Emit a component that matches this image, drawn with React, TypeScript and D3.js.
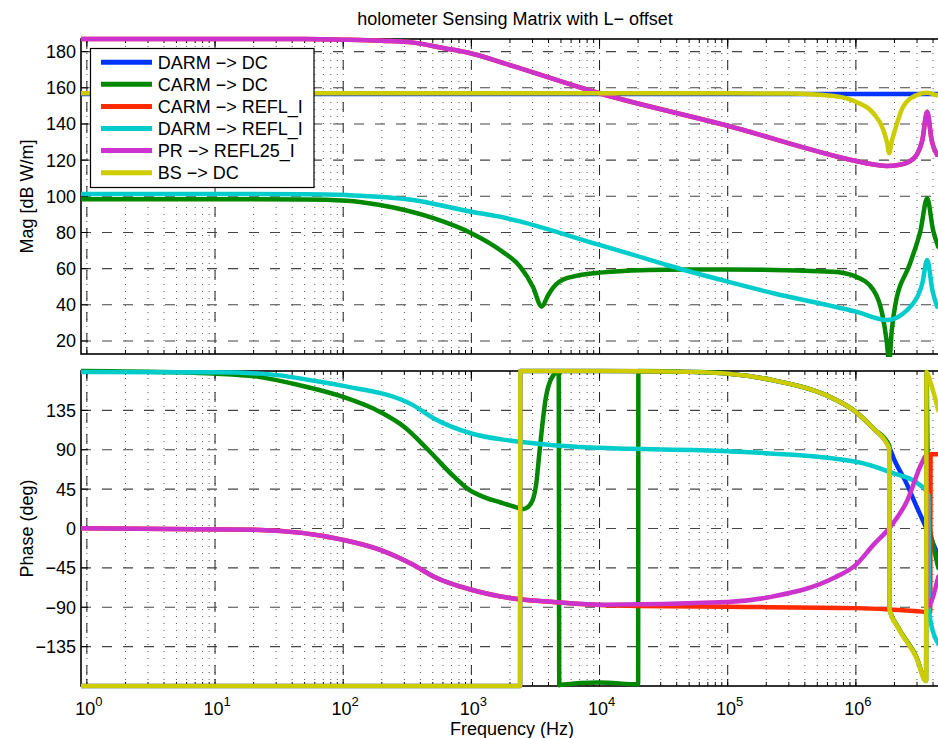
import { useEffect, useRef } from 'react'
import * as d3 from 'd3'

const W = 938
const H = 738

const seriesNames = ['DARM −> DC', 'CARM −> DC', 'CARM −> REFL_I', 'DARM −> REFL_I', 'PR −> REFL25_I', 'BS −> DC']
const seriesColors = ['#0033ff', '#008800', '#ff2a00', '#00cccc', '#cc33cc', '#cccc00']

const magTicks = [20, 40, 60, 80, 100, 120, 140, 160, 180]
const phaseTicks = [-135, -90, -45, 0, 45, 90, 135]
const decades = [0, 1, 2, 3, 4, 5, 6]

// magnitude, [Hz, dB]
const darmDcMag = [[0.9, 156.6], [1e5, 156.6], [1e6, 156.6], [5e6, 156.6]]
const carmDcMag = [
  [0.9, 98.4], [50, 98.3], [107, 97.6], [194, 95.2], [506, 87.9], [1000, 79.6],
  [1675, 70.3], [2400, 61.1], [3020, 50], [3540, 39], [3950, 45], [4350, 49.5], [5540, 54.7],
  [1e4, 57.8], [3.3e4, 59.4], [1e5, 59.5], [6.6e5, 58.3], [1e6, 55.6], [1.37e6, 48.2],
  [1.6e6, 35.5], [1.74e6, 20], [1.82e6, 8], [1.9e6, 25], [2.02e6, 39], [2.65e6, 63],
  [3.2e6, 81.4], [3.6e6, 99], [4.0e6, 81.4], [4.4e6, 72],
]
const prReflMag = [
  [0.9, 187], [50, 187], [107, 186.6], [200, 186], [352, 185], [600, 182], [1000, 179],
  [2000, 172.6], [1e4, 157], [1e5, 139], [1e6, 119.5], [1.2e6, 118.3], [1.74e6, 116.8],
  [2.14e6, 117.3], [2.6e6, 119.2], [2.98e6, 122.9], [3.3e6, 131], [3.6e6, 146.8],
  [3.9e6, 131], [4.3e6, 123],
]
const carmReflMag = prReflMag.map(d => [d[0], d[1]])
const darmReflMag = [
  [0.9, 101.3], [50, 101.2], [107, 100.7], [350, 98], [1000, 91.5], [1675, 88.7],
  [1e4, 73.1], [1.84e4, 67.6], [3.34e4, 62], [1e5, 52.8], [2.27e5, 46.4], [1e6, 36.2],
  [1.74e6, 31.6], [2.8e6, 40.8], [3.3e6, 51.9], [3.6e6, 64.8], [3.95e6, 48.2], [4.3e6, 39],
]
const bsDcMag = [
  [0.9, 157], [1e5, 157], [3e5, 156.8], [6.7e5, 155.5], [1e6, 152.3], [1.37e6, 145.9],
  [1.64e6, 136.7], [1.76e6, 129], [1.82e6, 123.8], [1.9e6, 130], [2.02e6, 136.7],
  [2.34e6, 149.6], [2.98e6, 156], [3.57e6, 157.3], [4.27e6, 156], [4.6e6, 155.5],
]

// phase, [Hz, deg]
const darmDcPhase = [
  [0.9, -180], [2400, -180], [2410, 180], [1e4, 180], [5e4, 179], [1e5, 177], [2.27e5, 169.3],
  [6.7e5, 148.4], [1e6, 133.2], [1.37e6, 114.3], [1.82e6, 93], [2.0e6, 78], [2.42e6, 55],
  [3.0e6, 24], [3.79e6, -9], [4.4e6, -31],
]
const carmDcPhase = [
  [0.9, 180], [5, 178.5], [9.7, 177], [22.5, 173], [46, 163.6], [100, 150.3], [194, 133.2],
  [300, 116], [459, 90], [700, 62], [943, 45], [1300, 35], [1675, 30], [2000, 26.5],
  [2550, 22.3], [2900, 28], [3200, 50], [3400, 87.6], [3800, 148.4], [4350, 175],
  [4800, 179.5], [4850, -179], [5050, -178.5], [1e4, -176], [2e4, -178], [2.01e4, 180],
  [5e4, 179], [1e5, 177], [2.27e5, 169.3], [6.7e5, 148.4], [1e6, 133.2], [1.37e6, 114.3],
  [1.82e6, 95], [1.83e6, -92], [2.14e6, -113], [2.97e6, -147], [3.53e6, -174], [3.56e6, 179],
  [3.62e6, 90], [3.75e6, 5], [4.0e6, -18], [4.4e6, -45],
]
const carmReflPhase = [
  [0.9, 0.3], [22.5, -1.6], [100, -13], [194, -24.4], [352, -41.5], [506, -54.8],
  [1000, -70], [2000, -79.4], [4350, -84], [1e4, -87.5], [2e4, -88.5], [1e5, -89.5],
  [1e6, -91], [1.82e6, -92.5], [3.3e6, -95], [3.8e6, -96], [3.83e6, 85], [4.4e6, 85],
]
const darmReflPhase = [
  [0.9, 179], [10, 178.5], [22.5, 177], [32, 175], [58, 169], [100, 163], [350, 141],
  [506, 126], [1000, 108.6], [2000, 100.5], [4350, 95.2], [1e4, 92.2], [1e5, 88.4],
  [1e6, 76.2], [1.82e6, 64.8], [3.3e6, 47.7], [3.68e6, 38], [3.72e6, -95], [4.4e6, -132],
]
const prReflPhase = [
  [0.9, 0.3], [22.5, -1.6], [100, -13], [194, -24.4], [352, -41.5], [506, -54.8],
  [1000, -70], [2000, -79.4], [4350, -84], [1e4, -87], [1e5, -84], [2.27e5, -77.6],
  [6.7e5, -56.6], [1e6, -41.5], [1.37e6, -18.7], [1.82e6, 0.3], [2.49e6, 30.6],
  [3.3e6, 76.2], [3.55e6, 84], [3.6e6, -90], [4.4e6, -55],
]
const bsDcPhase = [
  [0.9, -180], [2400, -180], [2410, 180], [1e4, 180], [5e4, 179], [1e5, 177], [2.27e5, 169.3],
  [6.7e5, 148.4], [1e6, 133.2], [1.37e6, 114.3], [1.82e6, 91.5], [1.83e6, -92.7],
  [2.14e6, -113.6], [2.97e6, -147.8], [3.53e6, -174.4], [3.56e6, 179], [3.8e6, 168],
  [4.4e6, 135],
]

const magSeries = [darmDcMag, carmDcMag, carmReflMag, darmReflMag, prReflMag, bsDcMag]
const phaseSeries = [darmDcPhase, carmDcPhase, carmReflPhase, darmReflPhase, prReflPhase, bsDcPhase]

export default function App() {
  const svgRef = useRef<SVGSVGElement>(null)

  useEffect(() => {
    if (!svgRef.current) return
    const svg = d3.select(svgRef.current)
    svg.selectAll('*').remove()

    const font = 'Liberation Sans, Arial, Helvetica, sans-serif'
    const left = 81
    const right = 947
    const x = d3.scaleLog().domain([0.9, 5.14e6]).range([left, right])

    const majors = decades.map(k => Math.pow(10, k))
    const minors: number[] = []
    decades.forEach(k => {
      d3.range(1, 10).forEach(m => {
        const v = m * Math.pow(10, k)
        if (v <= 5.14e6) minors.push(v)
      })
    })

    const panels = [
      { id: 'mag', top: 39, bottom: 354, y: d3.scaleLinear().domain([12.8, 187]).range([354, 39]),
        ticks: magTicks, series: magSeries, label: 'Mag [dB W/m]' },
      { id: 'ph', top: 371, bottom: 686, y: d3.scaleLinear().domain([-180, 180]).range([686, 371]),
        ticks: phaseTicks, series: phaseSeries, label: 'Phase (deg)' },
    ]

    panels.forEach(p => {
      const g = svg.append('g')
      svg.append('clipPath').attr('id', `clip-${p.id}`)
        .append('rect').attr('x', left).attr('y', p.top - 3)
        .attr('width', right - left).attr('height', p.bottom - p.top + 6)

      // minor grid (dotted)
      g.selectAll('.minor').data(minors).join('line')
        .attr('x1', d => x(d)).attr('x2', d => x(d))
        .attr('y1', p.top).attr('y2', p.bottom)
        .attr('stroke', '#555').attr('stroke-width', 1).attr('stroke-dasharray', '1,6')

      // major grid (dashed)
      g.selectAll('.vmajor').data(majors).join('line')
        .attr('x1', d => x(d)).attr('x2', d => x(d))
        .attr('y1', p.top).attr('y2', p.bottom)
        .attr('stroke', '#222').attr('stroke-width', 1).attr('stroke-dasharray', '10,11')
      g.selectAll('.hmajor').data(p.ticks).join('line')
        .attr('x1', left).attr('x2', right)
        .attr('y1', d => p.y(d)).attr('y2', d => p.y(d))
        .attr('stroke', '#444').attr('stroke-width', 1.1).attr('stroke-dasharray', '10,11')

      // ticks
      const tick = (vals: number[], len: number) => {
        vals.forEach(v => {
          g.append('line').attr('x1', x(v)).attr('x2', x(v)).attr('y1', p.bottom).attr('y2', p.bottom - len)
            .attr('stroke', '#000').attr('stroke-width', 1)
          g.append('line').attr('x1', x(v)).attr('x2', x(v)).attr('y1', p.top).attr('y2', p.top + len)
            .attr('stroke', '#000').attr('stroke-width', 1)
        })
      }
      tick(minors, 4)
      tick(majors, 7)
      p.ticks.forEach(t => {
        g.append('line').attr('x1', left).attr('x2', left + 7).attr('y1', p.y(t)).attr('y2', p.y(t))
          .attr('stroke', '#000').attr('stroke-width', 1)
        g.append('text').attr('x', 76).attr('y', p.y(t) + 6.5).attr('text-anchor', 'end')
          .attr('font-family', font).attr('font-size', 18).attr('fill', '#000')
          .text(String(t).replace('-', '−'))
      })

      // box
      g.append('rect').attr('x', left).attr('y', p.top).attr('width', right - left)
        .attr('height', p.bottom - p.top).attr('fill', 'none').attr('stroke', '#000').attr('stroke-width', 1.6)

      // y label
      g.append('text')
        .attr('transform', `translate(33,${(p.top + p.bottom) / 2}) rotate(-90)`)
        .attr('text-anchor', 'middle').attr('font-family', font).attr('font-size', 18)
        .text(p.label)

      // curves
      const line = d3.line<number[]>().x(d => x(d[0])).y(d => p.y(d[1])).curve(d3.curveMonotoneX)
      const cg = svg.append('g').attr('clip-path', `url(#clip-${p.id})`)
      p.series.forEach((s, i) => {
        cg.append('path').attr('d', line(s)).attr('fill', 'none')
          .attr('stroke', seriesColors[i]).attr('stroke-width', 4.5)
          .attr('stroke-linejoin', 'round').attr('stroke-linecap', 'round')
      })
    })

    // x tick labels
    decades.forEach(k => {
      const t = svg.append('text').attr('x', x(Math.pow(10, k)) + 2).attr('y', 715)
        .attr('text-anchor', 'middle').attr('font-family', font).attr('font-size', 18)
      t.append('tspan').text('10')
      t.append('tspan').attr('dy', -9).attr('font-size', 13).text(String(k))
    })

    svg.append('text').attr('x', 512).attr('y', 735).attr('text-anchor', 'middle')
      .attr('font-family', font).attr('font-size', 18).text('Frequency (Hz)')
    svg.append('text').attr('x', 515).attr('y', 25).attr('text-anchor', 'middle')
      .attr('font-family', font).attr('font-size', 18).text('holometer Sensing Matrix with L− offset')

    // legend
    const lg = svg.append('g')
    lg.append('rect').attr('x', 90.5).attr('y', 48.5).attr('width', 223.5).attr('height', 139)
      .attr('fill', '#fff').attr('stroke', '#000').attr('stroke-width', 1.2)
    seriesNames.forEach((name, i) => {
      const cy = 62.3 + i * 22.07
      lg.append('line').attr('x1', 101).attr('x2', 152).attr('y1', cy).attr('y2', cy)
        .attr('stroke', seriesColors[i]).attr('stroke-width', 5)
      lg.append('text').attr('x', 157.7).attr('y', cy + 6.5).attr('font-family', font)
        .attr('font-size', 18).text(name)
    })
  }, [])

  return (
    <svg ref={svgRef} width={W} height={H}
      style={{ position: 'absolute', left: 0, top: 0, background: '#fff' }} />
  )
}
